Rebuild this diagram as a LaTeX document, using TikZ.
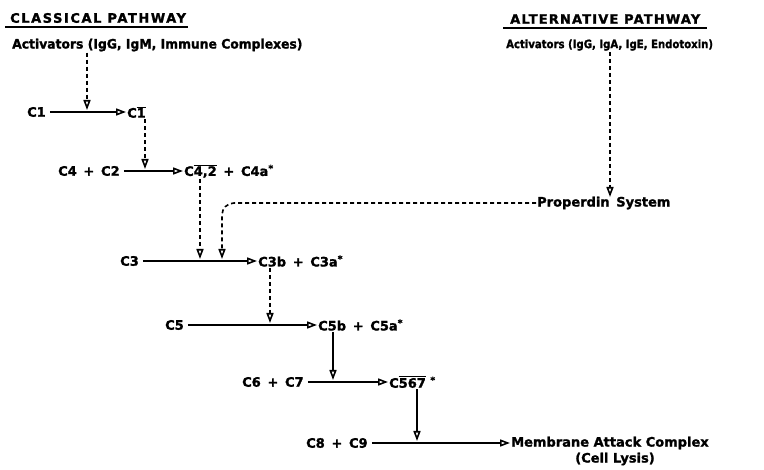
\documentclass[tikz,border=0pt]{standalone}
\usepackage{fontspec}
\setmainfont{DejaVu Sans}[UprightFont=* Bold, FakeBold=1.5]
\usetikzlibrary{arrows.meta}
\newcommand{\ovl}[1]{$\overline{\hbox{#1}}$}
\begin{document}
\begin{tikzpicture}[x=1pt,y=-1pt,
  lbl/.style={anchor=west,inner sep=1pt,font=\fontsize{13}{15}\selectfont},
  tip/.style={-{Triangle[open,length=10pt,width=7pt,line width=1.6pt]}},
  rx/.style={line width=1.6pt,tip,shorten <=3pt},
  dx/.style={line width=1.6pt,dash pattern=on 4pt off 3pt,tip},
  head/.style={anchor=west,inner sep=1pt,font=\fontsize{13}{15}\selectfont}]
\useasboundingbox (0,0) rectangle (764,470);
\node[head] (h1) at (9,18) {\addfontfeature{LetterSpace=12}CLASSICAL PATHWAY};
\draw[line width=1.8pt] ([xshift=-4pt,yshift=-4pt]h1.base west) -- ([xshift=1pt,yshift=-4pt]h1.base east);
\node[head] (h2) at (509,19) {\addfontfeature{LetterSpace=9}ALTERNATIVE PATHWAY};
\draw[line width=1.8pt] ([xshift=-6pt,yshift=-4pt]h2.base west) -- ([xshift=6pt,yshift=-4pt]h2.base east);
\node[lbl] (a1) at (11,45) {\scalebox{0.95}[1]{Activators (IgG, IgM, Immune Complexes)}};
\node[lbl,font=\fontsize{11.5}{14}\selectfont] (a2) at (505,45) {\scalebox{0.88}[1]{Activators (IgG, IgA, IgE, Endotoxin)}};
\node[lbl] (c1) at (26,112) {C1};
\node[lbl] (c1b) at (126,112) {C\ovl{1}};
\node[lbl] (c42) at (57,171) {C4 \,+\, C2};
\node[lbl] (c42b) at (183,171) {C\ovl{4,2} \,+\, C4a\textsuperscript{*}};
\node[lbl] (prop) at (536,203) {Properdin\, System};
\node[lbl] (c3) at (119,261) {C3};
\node[lbl] (c3b) at (257,261) {C3b \,+\, C3a\textsuperscript{*}};
\node[lbl] (c5) at (164,325) {C5};
\node[lbl] (c5b) at (317,325) {C5b \,+\, C5a\textsuperscript{*}};
\node[lbl] (c67) at (241,382) {C6 \,+\, C7};
\node[lbl] (c567) at (388,382) {C\ovl{567} \textsuperscript{*}};
\node[lbl] (c89) at (305,443) {C8 \,+\, C9};
\node[lbl] (mac) at (510,443) {Membrane Attack Complex};
\node[lbl,anchor=center] (lys) at (615,459) {(Cell Lysis)};
\coordinate (j1) at (87,110);
\coordinate (j2) at (145,169);
\coordinate (j3) at (200,259);
\coordinate (j4) at (222,259);
\coordinate (j5) at (270,323);
\coordinate (j6) at (333,380);
\coordinate (j7) at (417,441);
\coordinate (j8) at (610,197);
% reactions
\draw[rx] (c1) -- (c1 -| c1b.west);
\draw[rx] (c42) -- (c42 -| c42b.west);
\draw[rx] (c3) -- (c3 -| c3b.west);
\draw[rx] (c5) -- (c5 -| c5b.west);
\draw[rx] (c67) -- (c67 -| c567.west);
\draw[rx] (c89) -- (c89 -| mac.west);
% activations
\draw[dx] (a1.south -| j1) -- (j1);
\draw[dx] (c1b.south -| j2) -- (j2);
\draw[dx] (c42b.south -| j3) -- (j3);
\draw[dx,rounded corners=12pt] (prop.west) -| (j4);
\draw[dx] (a2.south -| j8) -- (j8);
\draw[dx] (c3b.south -| j5) -- (j5);
\draw[rx,shorten <=0pt] (c5b.south -| j6) -- (j6);
\draw[rx,shorten <=0pt] (c567.south -| j7) -- (j7);
\end{tikzpicture}
\end{document}
